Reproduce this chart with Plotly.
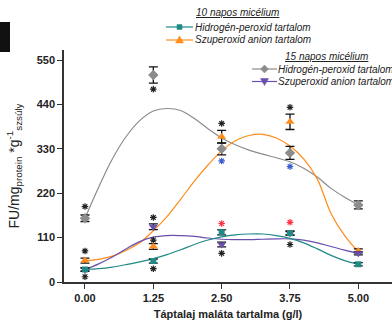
import plotly.graph_objects as go

# ---- data ----
x_points = [0.00, 1.25, 2.50, 3.75, 5.00]
tick_labels = ["0.00", "1.25", "2.50", "3.75", "5.00"]

# 10 napos micélium
h2o2_10 = [31, 52, 123, 121, 44]
h2o2_10_err = [4, 5, 6, 5, 4]
sup_10 = [53, 88, 360, 397, 77]
sup_10_err = [6, 7, 16, 19, 5]

# 15 napos micélium
h2o2_15 = [158, 513, 330, 320, 191]
h2o2_15_err = [8, 20, 15, 16, 10]
sup_15 = [31, 137, 93, 121, 71]
sup_15_err = [4, 7, 6, 5, 4]

# fitted curves
x_curve = [0, 0.25, 0.5, 0.75, 1.0, 1.25, 1.5, 1.75, 2.0, 2.25, 2.5,
           2.75, 3.0, 3.25, 3.5, 3.75, 4.0, 4.25, 4.5, 4.75, 5.0]
h2o2_10_curve = [31, 33, 37, 43, 50, 58, 68, 80, 93, 104, 112,
                 117, 119, 119, 115, 108, 97, 82, 66, 53, 44]
sup_10_curve = [53, 56, 64, 78, 97, 127, 162, 205, 250, 290, 325,
                350, 363, 366, 357, 337, 305, 255, 170, 115, 75]
h2o2_15_curve = [158, 235, 305, 360, 400, 424, 430, 425, 405, 380, 357,
                 340, 327, 317, 308, 298, 282, 260, 232, 210, 191]
sup_15_curve = [31, 45, 62, 82, 100, 111, 115, 115, 113, 109, 106,
                105, 105, 106, 107, 107, 104, 97, 88, 79, 71]

# significance stars
star_black_x = [0, 0, 0, 1.25, 1.25, 1.25, 1.25, 2.5, 2.5, 3.75, 3.75]
star_black_y = [187, 77, 13, 478, 160, 104, 33, 393, 71, 433, 93]
star_blue_x = [2.5, 3.75]
star_blue_y = [300, 286]
star_red_x = [2.5, 3.75]
star_red_y = [145, 148]

# legend texts
legend_titles = ["10 napos micélium", "15 napos micélium"]
legend_items = ["Hidrogén-peroxid tartalom", "Szuperoxid anion tartalom"]

TEAL = "#1f8a87"
ORANGE = "#ff8c1a"
GRAY = "#8c8c8c"
PURPLE = "#6a4fae"
TXT = "#222222"
FONT = "Liberation Sans, Arial"

fig = go.Figure()

def curve(y, color):
    fig.add_trace(go.Scatter(x=x_curve, y=y, mode="lines", line=dict(color=color, width=1.2, shape="spline"),
                             showlegend=False, hoverinfo="skip"))

def points(y, err, color, symbol, size):
    fig.add_trace(go.Scatter(x=x_points, y=y, mode="markers",
                             marker=dict(color=color, symbol=symbol, size=size),
                             error_y=dict(type="data", array=err, visible=True, color="#111111", thickness=1.3, width=4.5),
                             showlegend=False))

curve(h2o2_15_curve, GRAY)
curve(sup_10_curve, ORANGE)
curve(sup_15_curve, PURPLE)
curve(h2o2_10_curve, TEAL)

points(h2o2_15, h2o2_15_err, GRAY, "diamond", 8)
points(sup_10, sup_10_err, ORANGE, "triangle-up", 8)
points(sup_15, sup_15_err, PURPLE, "triangle-down", 8)
points(h2o2_10, h2o2_10_err, TEAL, "square", 6)

def stars(xs, ys, color):
    fig.add_trace(go.Scatter(x=xs, y=ys, mode="markers",
                             marker=dict(symbol="asterisk-open", size=5.5, color=color, line=dict(color=color, width=1.2)),
                             showlegend=False, hoverinfo="skip"))

stars(star_black_x, star_black_y, "#222222")
stars(star_blue_x, star_blue_y, "#3b5fd0")
stars(star_red_x, star_red_y, "#ff3344")

# ---- hand-built legend (paper coordinates from pixel positions) ----
PL, PR, PT, PB = 64, 392, 50, 282
def px(x):
    return (x - PL) / (PR - PL)
def py(y):
    return (PB - y) / (PB - PT)

shapes = [dict(type="rect", xref="paper", yref="paper",
               x0=px(0), x1=px(10), y0=py(52), y1=py(22),
               fillcolor="#111111", line=dict(width=0))]
annotations = []
legfont = dict(family=FONT, size=10, color=TXT, style="italic")

SYM = {
    "square": "M-2.5,-2.5 L2.5,-2.5 L2.5,2.5 L-2.5,2.5 Z",
    "triangle-up": "M-4,-3 L4,-3 L0,4 Z",
    "diamond": "M0,-4 L4,0 L0,4 L-4,0 Z",
    "triangle-down": "M-4,3 L4,3 L0,-4 Z",
}

def legend_group(title, title_cx, title_y, entries, x0, x1, tx):
    annotations.append(dict(text="<i><u>" + title + "</u></i>", xref="paper", yref="paper",
                            x=px(title_cx), y=py(title_y), xanchor="center", yanchor="middle",
                            showarrow=False, font=legfont))
    for name, color, sym, yy in entries:
        shapes.append(dict(type="line", xref="paper", yref="paper", x0=px(x0), x1=px(x1),
                           y0=py(yy), y1=py(yy), line=dict(color=color, width=1.2)))
        shapes.append(dict(type="path", xref="paper", yref="paper", xsizemode="pixel", ysizemode="pixel",
                           xanchor=px((x0 + x1) / 2), yanchor=py(yy), path=SYM[sym],
                           fillcolor=color, line=dict(color=color, width=0.5)))
        annotations.append(dict(text=name, xref="paper", yref="paper", x=px(tx), y=py(yy),
                                xanchor="left", yanchor="middle", showarrow=False, font=legfont))

legend_group(legend_titles[0], 237, 13,
             [(legend_items[0], TEAL, "square", 27), (legend_items[1], ORANGE, "triangle-up", 40)],
             166, 193, 193)
legend_group(legend_titles[1], 326, 57,
             [(legend_items[0], GRAY, "diamond", 69), (legend_items[1], PURPLE, "triangle-down", 81.5)],
             252, 277, 276)

fig.update_layout(
    width=392, height=324,
    margin=dict(l=PL, r=392 - PR, t=PT, b=324 - PB),
    paper_bgcolor="white", plot_bgcolor="white",
    font=dict(family=FONT, color=TXT),
    showlegend=False,
    xaxis=dict(range=[-0.384, 5.616], tickvals=x_points, ticktext=tick_labels,
               showline=True, linecolor="#333333", linewidth=1.5, ticks="outside", ticklen=5,
               tickcolor="#333333", tickwidth=1.3, showgrid=False, zeroline=False,
               tickfont=dict(family=FONT, size=11, color=TXT, weight="bold"),
               title=dict(text="<b>Táptalaj maláta tartalma (g/l)</b>", font=dict(size=11, color=TXT), standoff=7)),
    yaxis=dict(range=[0, 575], tickvals=[0, 110, 220, 330, 440, 550],
               showline=True, linecolor="#333333", linewidth=1.5, ticks="outside", ticklen=5,
               tickcolor="#333333", tickwidth=1.3, showgrid=False, zeroline=False,
               tickfont=dict(family=FONT, size=11, color=TXT, weight="bold"),
               title=dict(text="FU/mg<sub>protein</sub> *g<sup>-1</sup><sub>szsúly</sub>",
                          font=dict(size=14, color=TXT), standoff=14)),
    shapes=shapes,
    annotations=annotations,
)

fig.write_html("out.html", config={"displayModeBar": False},
               post_script="document.body.style.margin='0px';")
